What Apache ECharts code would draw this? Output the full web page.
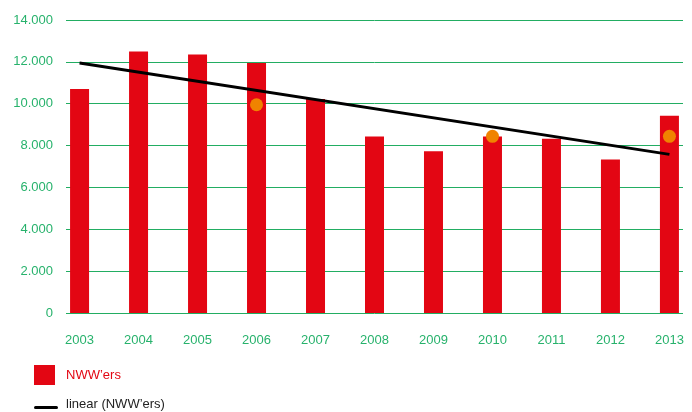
<!DOCTYPE html>
<html>
<head>
<meta charset="utf-8">
<script src="https://cdn.jsdelivr.net/npm/echarts@6/dist/echarts.min.js"></script>
<style>
  html, body { margin: 0; padding: 0; background: #fff; }
  #main { width: 692px; height: 412px; }
</style>
</head>
<body>
<div id="main"></div>
<script>
// jaren en aantallen NWW'ers
var years = [2003, 2004, 2005, 2006, 2007, 2008, 2009, 2010, 2011, 2012, 2013];
var nwwers = [10700, 12500, 12350, 11950, 10230, 8430, 7730, 8430, 8320, 7330, 9430];
// oranje punten
var dotYears = [2006, 2010, 2013];
var dotValues = [9950, 8440, 8440];
// lineaire trend (begin- en eindpunt)
var trendYears = [2003, 2013];
var trendValues = [11950, 7580];
var yTicks = [0, 2000, 4000, 6000, 8000, 10000, 12000, 14000];

var green = '#27b26c';
var red = '#e30613';
var font = 'Liberation Sans';

var chart = echarts.init(document.getElementById('main'));

function pairs(xs, ys) {
  return xs.map(function (x, i) { return [x, ys[i]]; });
}

chart.setOption({
  animation: false,
  textStyle: { fontFamily: font },
  grid: { left: 66, right: 9, top: 20, bottom: 99 },
  xAxis: {
    type: 'value',
    min: 2002.77,
    max: 2013.23,
    axisLine: { show: false },
    axisTick: { show: false },
    splitLine: { show: false },
    axisLabel: {
      customValues: years,
      color: green,
      fontSize: 13,
      margin: 21,
      formatter: function (v) { return String(v); }
    }
  },
  yAxis: {
    type: 'value',
    min: yTicks[0],
    max: yTicks[yTicks.length - 1],
    interval: 2000,
    axisLine: { show: false },
    axisTick: { show: false },
    axisLabel: {
      color: green,
      fontSize: 13,
      margin: 13,
      formatter: function (v) {
        return v === 0 ? '0' : (v / 1000).toFixed(0) + '.000';
      }
    },
    splitLine: { lineStyle: { color: '#22ad62', width: 1 } }
  },
  series: [
    {
      name: 'NWW’ers',
      type: 'bar',
      barWidth: 19,
      itemStyle: { color: red },
      data: pairs(years, nwwers),
      z: 2
    },
    {
      name: 'linear (NWW’ers)',
      type: 'line',
      symbol: 'none',
      lineStyle: { color: '#000', width: 3 },
      data: pairs(trendYears, trendValues),
      z: 3
    },
    {
      type: 'scatter',
      symbolSize: 13,
      itemStyle: { color: '#f08300', opacity: 1 },
      data: pairs(dotYears, dotValues),
      z: 4
    }
  ],
  graphic: [
    { type: 'rect', left: 34, top: 365, shape: { width: 21, height: 20 }, style: { fill: red } },
    { type: 'text', left: 66, top: 369, style: { text: 'NWW’ers', fill: red, font: '13px "Liberation Sans"' } },
    { type: 'rect', left: 34, top: 406, shape: { width: 24, height: 3, r: 1.5 }, style: { fill: '#000' } },
    { type: 'text', left: 66, top: 398, style: { text: 'linear (NWW’ers)', fill: '#222', font: '13px "Liberation Sans"' } }
  ]
});
</script>
</body>
</html>
